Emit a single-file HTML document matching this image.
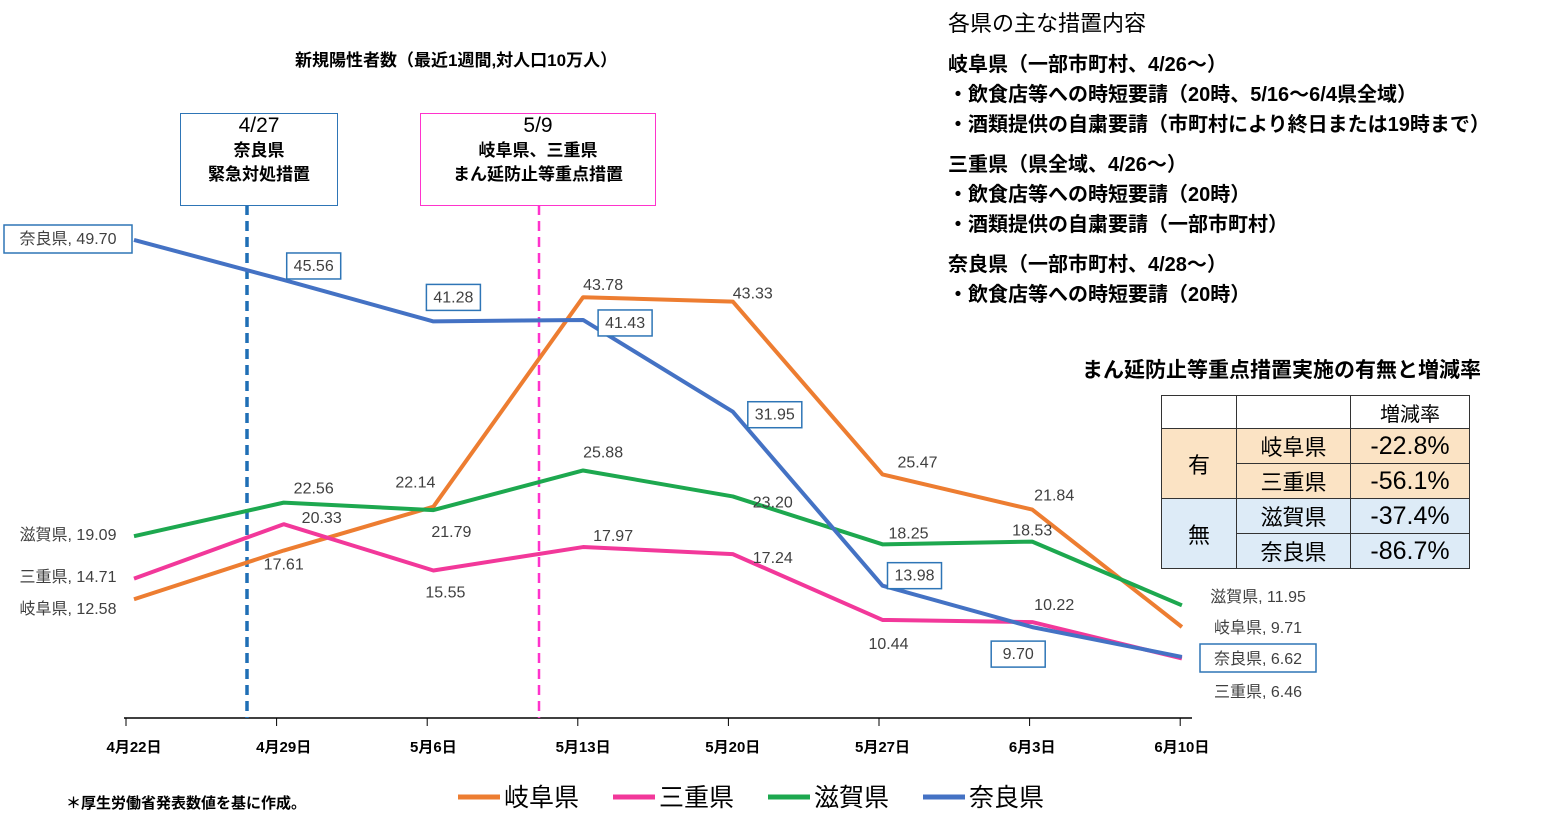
<!DOCTYPE html>
<html><head><meta charset="utf-8"><style>
body{margin:0;background:#fff;font-family:"Liberation Sans","Noto Sans CJK JP",sans-serif;}
#wrap{position:relative;width:1556px;height:815px;overflow:hidden;}
.t{position:absolute;color:#000;white-space:nowrap;}
</style></head><body>
<div id="wrap">
<svg id="chart" width="1556" height="815" style="position:absolute;left:0;top:0"></svg>
<div class="t" style="left:295px;top:46px;font-size:17px;font-weight:bold">新規陽性者数（最近1週間,対人口10万人）</div>
<div class="t" style="left:948px;top:6px;font-size:22px">各県の主な措置内容</div>
<div class="t" style="left:948px;top:50px;font-size:20px;line-height:30px;font-weight:bold">岐阜県（一部市町村、4/26～）<br>・飲食店等への時短要請（20時、5/16～6/4県全域）<br>・酒類提供の自粛要請（市町村により終日または19時まで）<br><div style="height:10px"></div>三重県（県全域、4/26～）<br>・飲食店等への時短要請（20時）<br>・酒類提供の自粛要請（一部市町村）<br><div style="height:10px"></div>奈良県（一部市町村、4/28～）<br>・飲食店等への時短要請（20時）</div>
<div class="t" style="left:1082px;top:354px;font-size:21px;font-weight:bold">まん延防止等重点措置実施の有無と増減率</div>
<table style="position:absolute;left:1161px;top:395px;border-collapse:collapse;font-size:22px;">
<tr style="height:33px"><td style="width:72px;border:1px solid #333"></td><td style="width:111px;border:1px solid #333"></td><td style="width:116px;border:1px solid #333;text-align:center;font-size:20px">増減率</td></tr>
<tr style="height:33px;background:#FBE3C4"><td rowspan="2" style="border:1px solid #333;text-align:center">有</td><td style="border:1px solid #333;text-align:center">岐阜県</td><td style="border:1px solid #333;text-align:center;font-size:25px">-22.8%</td></tr>
<tr style="height:33px;background:#FBE3C4"><td style="border:1px solid #333;text-align:center">三重県</td><td style="border:1px solid #333;text-align:center;font-size:25px">-56.1%</td></tr>
<tr style="height:33px;background:#DDEBF7"><td rowspan="2" style="border:1px solid #333;text-align:center">無</td><td style="border:1px solid #333;text-align:center">滋賀県</td><td style="border:1px solid #333;text-align:center;font-size:25px">-37.4%</td></tr>
<tr style="height:33px;background:#DDEBF7"><td style="border:1px solid #333;text-align:center">奈良県</td><td style="border:1px solid #333;text-align:center;font-size:25px">-86.7%</td></tr>
</table>
<div style="position:absolute;left:180px;top:113px;width:156px;height:91px;border:1.5px solid #2E75B6;text-align:center;font-size:17px;line-height:24px;font-weight:bold"><span style="font-size:21px;font-weight:normal">4/27</span><br>奈良県<br>緊急対処措置</div>
<div style="position:absolute;left:420px;top:113px;width:234px;height:91px;border:1.5px solid #FF33CC;text-align:center;font-size:17px;line-height:24px;font-weight:bold"><span style="font-size:21px;font-weight:normal">5/9</span><br>岐阜県、三重県<br>まん延防止等重点措置</div>
<div class="t" style="left:66px;top:792px;font-size:15px;font-weight:bold">＊厚生労働省発表数値を基に作成。</div>
</div>
<script>
const categories=["4月22日","4月29日","5月6日","5月13日","5月20日","5月27日","6月3日","6月10日"];
const gifu=[12.58,17.61,22.14,43.78,43.33,25.47,21.84,9.71];
const mie=[14.71,20.33,15.55,17.97,17.24,10.44,10.22,6.46];
const shiga=[19.09,22.56,21.79,25.88,23.20,18.25,18.53,11.95];
const nara=[49.70,45.56,41.28,41.43,31.95,13.98,9.70,6.62];
const names=["岐阜県","三重県","滋賀県","奈良県"];
const svg=document.getElementById('chart');
const NS='http://www.w3.org/2000/svg';
const x=i=>134+i*149.7;
const y=v=>721-v*9.68;
function el(tag,attrs,name,txt){const e=document.createElementNS(NS,tag);for(const k in attrs)e.setAttribute(k,attrs[k]);


if(txt!==undefined)e.textContent=txt;svg.appendChild(e);return e;}
el('line',{x1:124,y1:718,x2:1192,y2:718,stroke:'#000','stroke-width':1.5},'x-axis');
categories.forEach((c,i)=>{const tx=126+i*150.6;
el('line',{x1:tx,y1:718,x2:tx,y2:726,stroke:'#000'},'x-tick');
el('text',{x:x(i),y:752,'font-size':15,'font-weight':'bold','text-anchor':'middle','font-family':'Liberation Sans,Noto Sans CJK JP,sans-serif'},'x-tick-label',c);});
el('line',{x1:247,y1:205,x2:247,y2:718,stroke:'#1F6FB5','stroke-width':3.5,'stroke-dasharray':'10,6'},'nara-emergency-line');
el('line',{x1:539,y1:205,x2:539,y2:718,stroke:'#FF33CC','stroke-width':2.5,'stroke-dasharray':'10,6'},'priority-measures-line');
const series=[[gifu,'#ED7D31','gifu'],[mie,'#F2389A','mie'],[shiga,'#1DA84F','shiga'],[nara,'#4472C4','nara']];
series.forEach(([d,c,n])=>{el('polyline',{points:d.map((v,i)=>x(i)+','+y(v)).join(' '),fill:'none',stroke:c,'stroke-width':4,'stroke-linejoin':'round'},'line-'+n);});
const lab=[[gifu,1,0,18],[gifu,2,-18,-20],[gifu,3,20,-8],[gifu,4,20,-4],[gifu,5,35,-8],[gifu,6,22,-10],
[mie,1,38,-2],[mie,2,12,26],[mie,3,30,-7],[mie,4,40,8],[mie,5,6,28],[mie,6,22,-13],
[shiga,1,30,-10],[shiga,2,18,26],[shiga,3,20,-14],[shiga,4,40,10],[shiga,5,26,-7],[shiga,6,0,-7],
[nara,1,30,-10,1],[nara,2,20,-20,1],[nara,3,42,7,1],[nara,4,42,7,1],[nara,5,32,-6,1],[nara,6,-14,31,1]];
lab.forEach(([d,i,dx,dy,b])=>{const tx=x(i)+dx,ty=y(d[i])+dy;
if(b)el('rect',{x:tx-27,y:ty-17,width:54,height:26,fill:'#fff',stroke:'#2E75B6','stroke-width':1.5},'value-label-box');
el('text',{x:tx,y:ty+1,'font-size':16,'text-anchor':'middle',fill:'#404040','font-family':'Liberation Sans,sans-serif'},'value-label',d[i].toFixed(2));});
const sd=[gifu,mie,shiga,nara];
[[0,612],[1,580],[2,538],[3,242]].forEach(([k,ty])=>{const s=names[k]+', '+sd[k][0].toFixed(2);
if(k===3)el('rect',{x:4,y:ty-17,width:128,height:28,fill:'#fff',stroke:'#2E75B6','stroke-width':1.5},'start-label-box');
el('text',{x:68,y:ty+2,'font-size':16,'text-anchor':'middle',fill:'#404040','font-family':'Liberation Sans,Noto Sans CJK JP,sans-serif'},'start-label',s);});
[[2,597],[0,628],[3,659],[1,692]].forEach(([k,ty])=>{const s=names[k]+', '+sd[k][7].toFixed(2);
if(k===3)el('rect',{x:1200,y:ty-15,width:116,height:28,fill:'#fff',stroke:'#2E75B6','stroke-width':1.5},'end-label-box');
el('text',{x:1258,y:ty+5,'font-size':16,'text-anchor':'middle',fill:'#404040','font-family':'Liberation Sans,Noto Sans CJK JP,sans-serif'},'end-label',s);});
const lc=['#ED7D31','#F2389A','#1DA84F','#4472C4'];
names.forEach((n,k)=>{const lx=458+k*155;
el('line',{x1:lx,y1:797,x2:lx+42,y2:797,stroke:lc[k],'stroke-width':5},'legend-swatch');
el('text',{x:lx+46,y:806,'font-size':25,'font-family':'Liberation Sans,Noto Sans CJK JP,sans-serif'},'legend-entry',n);});
</script>
</body></html>
